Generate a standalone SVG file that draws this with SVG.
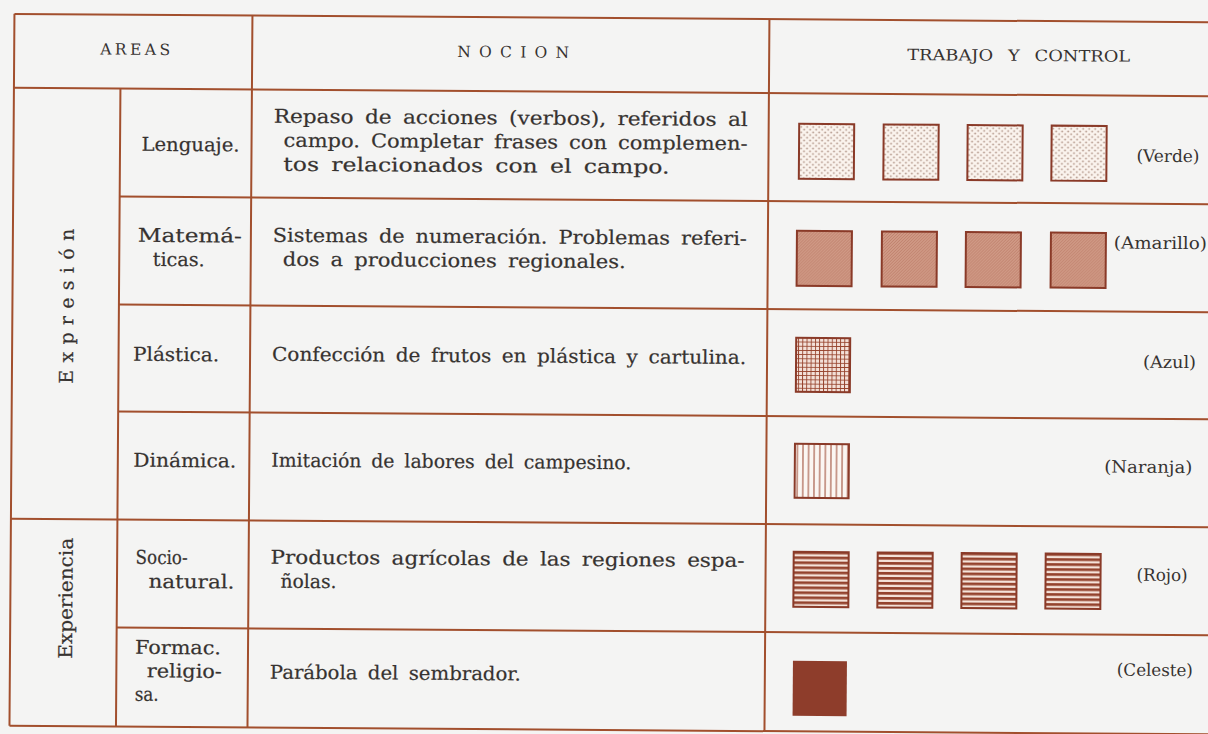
<svg xmlns="http://www.w3.org/2000/svg" width="1208" height="734" viewBox="0 0 1208 734">
<style>
.ln{stroke:#a24f2d;stroke-width:2;fill:none}
.t{font-family:"DejaVu Serif","Liberation Serif",serif;font-size:19px;fill:#363230;stroke:#363230;stroke-width:0.2;word-spacing:4px}
.h{font-family:"DejaVu Serif","Liberation Serif",serif;font-size:15.5px;fill:#363230}
.lab{font-family:"DejaVu Serif","Liberation Serif",serif;font-size:17px;fill:#363230;text-anchor:end}
.sq{stroke:#8a3a28;stroke-width:2}
</style>
<defs>
<pattern id="dots" patternUnits="userSpaceOnUse" width="6" height="5.4">
<rect width="6" height="5.4" fill="#fbf4ee"/>
<circle cx="1.5" cy="1.35" r="0.85" fill="#a88a7c"/>
<circle cx="4.5" cy="4.05" r="0.85" fill="#a88a7c"/>
</pattern>
<pattern id="diag" patternUnits="userSpaceOnUse" width="3" height="3">
<rect width="3" height="3" fill="#d09a86"/>
<path d="M0,3 L3,0 M-1,1 L1,-1 M2,4 L4,2" stroke="#bb7a66" stroke-width="0.8"/>
</pattern>
<pattern id="grid" patternUnits="userSpaceOnUse" width="4.2" height="4.2">
<rect width="4.2" height="4.2" fill="#f3e0d8"/>
<path d="M0,0 H4.2 M0,0 V4.2" stroke="#96422c" stroke-width="1.8"/>
</pattern>
<pattern id="vert" patternUnits="userSpaceOnUse" width="5.6" height="10">
<rect width="5.6" height="10" fill="#fbf6f2"/>
<path d="M2.8,0 V10" stroke="#9a4630" stroke-width="1"/>
</pattern>
<pattern id="hor" patternUnits="userSpaceOnUse" width="10" height="5">
<rect width="10" height="5" fill="#f5e3da"/>
<rect y="0" width="10" height="2.7" fill="#94432e"/>
</pattern>
</defs>
<rect width="1208" height="734" fill="#f4f4f3"/>
<g transform="rotate(0.4 604 367)">
<g id="grid-lines">
<path class="ln" d="M12,18 H1215 M12,92 H1215 M118.5,200 H1215 M118.5,308 H1215 M118.5,415 H1215 M12,523 H1215 M118.5,631 H1215 M12,730 H1215"/>
<path class="ln" d="M12,18 V730 M118.5,92 V730 M250,18 V730 M767,18 V730"/>
</g>
<g id="header">
<text class="h" x="98" y="58" textLength="70" lengthAdjust="spacing">AREAS</text>
<text class="h" x="455" y="58" textLength="112" lengthAdjust="spacing">NOCION</text>
<text class="h" x="905" y="58" word-spacing="8" textLength="223" lengthAdjust="spacingAndGlyphs">TRABAJO Y CONTROL</text>
</g>
<g id="expresion">
<text class="t" transform="translate(73 310) rotate(-90)" text-anchor="middle" textLength="155" lengthAdjust="spacing">Expresión</text>
</g>
<g id="experiencia">
<text class="t" transform="translate(74 602) rotate(-90)" text-anchor="middle" textLength="121" lengthAdjust="spacingAndGlyphs">Experiencia</text>
</g>
<g id="lenguaje">
<text class="t" x="140" y="154" textLength="98" lengthAdjust="spacingAndGlyphs">Lenguaje.</text>
<text class="t" x="272" y="125" textLength="474" lengthAdjust="spacingAndGlyphs">Repaso de acciones (verbos), referidos al</text>
<text class="t" x="282" y="149" textLength="464" lengthAdjust="spacingAndGlyphs">campo. Completar frases con complemen-</text>
<text class="t" x="282" y="173" textLength="386" lengthAdjust="spacingAndGlyphs">tos relacionados con el campo.</text>
<rect class="sq" x="797.5" y="122.5" width="55" height="55" fill="url(#dots)"/>
<rect class="sq" x="882" y="122.5" width="55" height="55" fill="url(#dots)"/>
<rect class="sq" x="966" y="122.5" width="55" height="55" fill="url(#dots)"/>
<rect class="sq" x="1050" y="122.5" width="55" height="55" fill="url(#dots)"/>
<text class="lab" x="1198" y="158" textLength="63" lengthAdjust="spacingAndGlyphs">(Verde)</text>
</g>
<g id="matematicas">
<text class="t" x="137" y="245" textLength="104" lengthAdjust="spacingAndGlyphs">Matemá-</text>
<text class="t" x="152" y="269" textLength="52" lengthAdjust="spacingAndGlyphs">ticas.</text>
<text class="t" x="272" y="244" textLength="474" lengthAdjust="spacingAndGlyphs">Sistemas de numeración. Problemas referi-</text>
<text class="t" x="282" y="268" textLength="343" lengthAdjust="spacingAndGlyphs">dos a producciones regionales.</text>
<rect class="sq" x="796" y="229.5" width="55" height="55" fill="url(#diag)"/>
<rect class="sq" x="881" y="229.5" width="55" height="55" fill="url(#diag)"/>
<rect class="sq" x="965" y="229.5" width="55" height="55" fill="url(#diag)"/>
<rect class="sq" x="1050" y="229.5" width="55" height="55" fill="url(#diag)"/>
<text class="lab" x="1206" y="245" textLength="93" lengthAdjust="spacingAndGlyphs">(Amarillo)</text>
</g>
<g id="plastica">
<text class="t" x="133" y="364" textLength="86" lengthAdjust="spacingAndGlyphs">Plástica.</text>
<text class="t" x="272" y="363" textLength="474" lengthAdjust="spacingAndGlyphs">Confección de frutos en plástica y cartulina.</text>
<rect class="sq" x="796" y="336.5" width="54" height="54" fill="url(#grid)"/>
<text class="lab" x="1196" y="364" textLength="53" lengthAdjust="spacingAndGlyphs">(Azul)</text>
</g>
<g id="dinamica">
<text class="t" x="134" y="470" textLength="103" lengthAdjust="spacingAndGlyphs">Dinámica.</text>
<text class="t" x="272" y="469" textLength="360" lengthAdjust="spacingAndGlyphs">Imitación de labores del campesino.</text>
<rect class="sq" x="795.5" y="442.5" width="54" height="54" fill="url(#vert)"/>
<text class="lab" x="1193" y="469" textLength="88" lengthAdjust="spacingAndGlyphs">(Naranja)</text>
</g>
<g id="socionatural">
<text class="t" x="137" y="567" textLength="52" lengthAdjust="spacingAndGlyphs">Socio-</text>
<text class="t" x="150" y="591" textLength="86" lengthAdjust="spacingAndGlyphs">natural.</text>
<text class="t" x="272" y="566" textLength="474" lengthAdjust="spacingAndGlyphs">Productos agrícolas de las regiones espa-</text>
<text class="t" x="282" y="590" textLength="56" lengthAdjust="spacingAndGlyphs">ñolas.</text>
<rect class="sq" x="795" y="550.5" width="55" height="55" fill="url(#hor)"/>
<rect class="sq" x="879" y="550.5" width="55" height="55" fill="url(#hor)"/>
<rect class="sq" x="963" y="550.5" width="55" height="55" fill="url(#hor)"/>
<rect class="sq" x="1047" y="550.5" width="55" height="55" fill="url(#hor)"/>
<text class="lab" x="1189" y="577" textLength="51" lengthAdjust="spacingAndGlyphs">(Rojo)</text>
</g>
<g id="formac">
<text class="t" x="137" y="657" textLength="86" lengthAdjust="spacingAndGlyphs">Formac.</text>
<text class="t" x="149" y="680.5" textLength="75" lengthAdjust="spacingAndGlyphs">religio-</text>
<text class="t" x="137" y="704" textLength="24" lengthAdjust="spacingAndGlyphs">sa.</text>
<text class="t" x="272" y="681" textLength="251" lengthAdjust="spacingAndGlyphs">Parábola del sembrador.</text>
<rect x="795" y="659.5" width="54" height="55" fill="#8e3d2b"/>
<text class="lab" x="1195" y="672" textLength="76" lengthAdjust="spacingAndGlyphs">(Celeste)</text>
</g>
</g>
</svg>
